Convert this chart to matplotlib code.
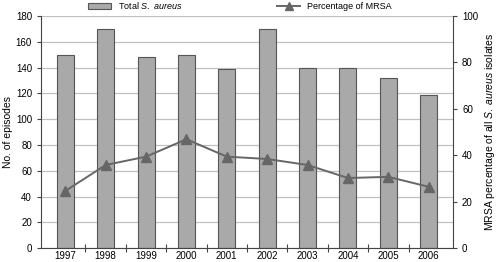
import numpy as np
import matplotlib.pyplot as plt
from matplotlib.patches import Patch
from matplotlib.lines import Line2D

years = ['1997', '1998', '1999', '2000', '2001', '2002', '2003', '2004', '2005', '2006']
total_aureus = [150, 170, 148, 150, 139, 170, 140, 140, 132, 119]
mrsa_pct = [24.6, 35.8, 39.4, 46.9, 39.4, 38.4, 35.8, 30.2, 30.7, 26.4]

plt.rcParams['font.family'] = ['Liberation Sans', 'DejaVu Sans']
plt.rcParams['mathtext.fontset'] = 'custom'
plt.rcParams['mathtext.rm'] = 'Liberation Sans'
plt.rcParams['mathtext.it'] = 'Liberation Sans:italic'

fig = plt.figure(figsize=(5, 2.62), dpi=100)
ax = fig.add_axes([0.082, 0.053, 0.824, 0.886])
x = np.arange(len(years))

ax.set_axisbelow(True)
ax.grid(axis='y', color='#c0c0c0', linewidth=0.9)
ax.bar(x, total_aureus, width=0.42, color='#a9a9a9', edgecolor='#555555', linewidth=0.8)
ax.set_ylim(0, 180)
ax.set_yticks(np.arange(0, 181, 20))
ax.set_xlim(-0.6, len(years) - 0.4)
ax.set_xticks(x)
ax.set_xticklabels(years)
ax.set_xticks(np.arange(0.5, len(years) - 1, 1), minor=True)
ax.tick_params(axis='x', which='major', length=0, labelsize=7, pad=2)
ax.tick_params(axis='x', which='minor', direction='inout', length=6, width=0.8, color='#444444')
ax.tick_params(axis='y', labelsize=7, length=3, color='#444444')
ax.set_ylabel('No. of episodes', fontsize=7.5)
ax.yaxis.set_label_coords(-0.068, 0.5)
for s in ['top', 'right']:
    ax.spines[s].set_visible(False)
for s in ['left', 'bottom']:
    ax.spines[s].set_color('#444444')
    ax.spines[s].set_linewidth(0.8)

ax2 = ax.twinx()
ax2.plot(x, mrsa_pct, color='#666666', linewidth=1.4, marker='^', markersize=7,
         markerfacecolor='#666666', markeredgecolor='#666666')
ax2.set_ylim(0, 100)
ax2.set_yticks(np.arange(0, 101, 20))
ax2.tick_params(axis='y', labelsize=7, length=3, color='#444444')
ax2.set_ylabel('MRSA percentage of all $\\it{S.}$ $\\it{aureus}$ isolates', fontsize=7.5)
ax2.yaxis.set_label_coords(1.072, 0.5)
for s in ['top', 'left', 'bottom']:
    ax2.spines[s].set_visible(False)
ax2.spines['right'].set_color('#444444')
ax2.spines['right'].set_linewidth(0.8)

handles = [Patch(facecolor='#a9a9a9', edgecolor='#555555', linewidth=0.8),
           Line2D([0], [0], color='#666666', linewidth=1.4, marker='^', markersize=6)]
labels = ['Total $\\it{S.}$ $\\it{aureus}$', 'Percentage of MRSA']
fig.legend(handles, labels, loc='upper center', bbox_to_anchor=(0.48, 1.03), ncol=2,
           frameon=False, fontsize=6.5, columnspacing=10.5, handlelength=2.5,
           handleheight=0.5)

fig.savefig('out.png', dpi=100)
